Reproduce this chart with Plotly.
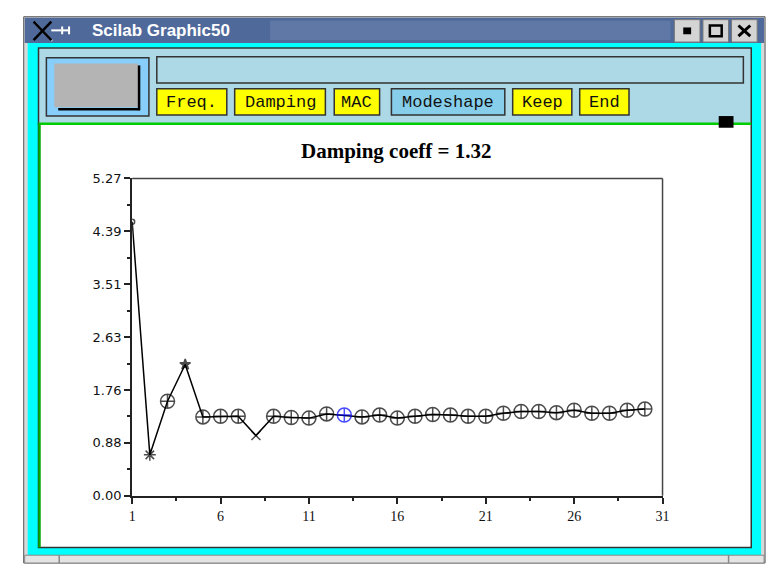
import plotly.graph_objects as go

W, H = 776, 571

# ---- data ----
mode_index = list(range(1, 31))
damping = [4.55, 0.68, 1.57, 2.18, 1.31, 1.32, 1.32, 1.00, 1.32, 1.30,
           1.29, 1.36, 1.34, 1.31, 1.34, 1.29, 1.32, 1.35, 1.34, 1.32,
           1.32, 1.37, 1.40, 1.40, 1.38, 1.42, 1.37, 1.37, 1.42, 1.44]
point_symbols = (["circle-open", "asterisk-open", "circle-cross-open", "star"]
                 + ["circle-cross-open"] * 3 + ["x-thin-open"]
                 + ["circle-cross-open"] * 22)
point_colors = ["black"] * 12 + ["blue"] + ["black"] * 17
point_sizes = ([5, 10, 14, 8] + [14] * 3 + [9] + [14] * 22)
y_tickvals = [0.0, 0.878, 1.757, 2.635, 3.513, 4.392, 5.27]
y_ticktext = ["0.00", "0.88", "1.76", "2.63", "3.51", "4.39", "5.27"]
x_tickvals = [1, 6, 11, 16, 21, 26, 31]
x_ticktext = ["1", "6", "11", "16", "21", "26", "31"]
buttons = ["Freq.", "Damping", "MAC", "Modeshape", "Keep", "End"]
title_text = "Damping coeff = 1.32"
window_title = "Scilab Graphic50"


def X(p):
    return p / W


def Y(p):
    return 1 - p / H


shapes = []


def rect(x0, y0, x1, y1, fill, line=None, lw=1, layer="below"):
    shapes.append(dict(type="rect", xref="paper", yref="paper",
                       x0=X(x0), x1=X(x1), y0=Y(y1), y1=Y(y0),
                       fillcolor=fill, layer=layer,
                       line=dict(color=line if line else "rgba(0,0,0,0)", width=lw if line else 0)))


def seg(x0, y0, x1, y1, color, lw=1, layer="below"):
    shapes.append(dict(type="line", xref="paper", yref="paper",
                       x0=X(x0), x1=X(x1), y0=Y(y0), y1=Y(y1), layer=layer,
                       line=dict(color=color, width=lw)))


# window frame
rect(20, 10, 772, 571, "#d8d8d8", "#555555", 1)
# title bar
rect(21, 11, 771, 37, "#4f6a9a")
rect(270, 14, 676, 34, "#6078a6")
# cyan frame
rect(24, 37, 768, 563, "#00ffff")
# toolbar
rect(35, 42, 758, 120, "#add8e6", "#333333", 1.5)
# graphic area
rect(35, 120, 758, 555, "#ffffff", "#333333", 1.5)
seg(35, 120, 758, 120, "#00cc00", 2.5)
seg(36, 120, 36, 555, "#00aa00", 2.5)
# status bar
rect(21, 563, 771, 571, "#e4e4e4", "#888888", 1)
seg(56, 563, 56, 571, "#888888", 1.5)
seg(735, 563, 735, 571, "#888888", 1.5)

# pixmap box
rect(43, 52, 147, 112, "#87cefa", "#333333", 1.5)
rect(51, 58, 136, 103, "#b4b4b4")
seg(137, 60, 137, 106, "#000000", 2.5)
seg(55, 105, 138, 105, "#000000", 2.5)
# text field
rect(155, 51, 750, 78, "#add8e6", "#333333", 1.5)

# buttons
btn_x = [(155, 226), (234, 326), (335, 381), (393, 508), (516, 576), (584, 634)]
btn_fill = ["#ffff00", "#ffff00", "#ffff00", "#87ceeb", "#ffff00", "#ffff00"]
annotations = []
for (bx0, bx1), f, t in zip(btn_x, btn_fill, buttons):
    rect(bx0, 84, bx1, 111, f, "#333333", 1.5)
    annotations.append(dict(xref="paper", yref="paper", x=X((bx0 + bx1) / 2), y=Y(98),
                            text=t, showarrow=False, xanchor="center", yanchor="middle",
                            font=dict(family="Liberation Mono", size=17, color="#111111")))

# black square marker
rect(725, 112, 740, 124, "#000000", layer="above")

# window buttons
for bx0 in (680, 709, 738):
    rect(bx0, 13, bx0 + 26, 36, "#d4d4d4", "#777777", 1)
rect(689, 21, 697, 28, "#000000")
rect(716, 19, 728, 30, "rgba(0,0,0,0)", "#000000", 2.5)
seg(745, 19, 757, 30, "#000000", 3)
seg(745, 30, 757, 19, "#000000", 3)

# X icon in title bar
seg(31, 16, 49, 35, "#9aa8c0", 2.5)
seg(30, 15, 48, 34, "#000000", 2.5)
seg(30, 34, 48, 15, "#000000", 2.5)
seg(48, 24, 58, 24, "#ffffff", 2)
seg(59, 20, 59, 28, "#ffffff", 2)
seg(59, 24, 66, 24, "#ffffff", 2)
seg(66, 20, 66, 28, "#ffffff", 2)

annotations.append(dict(xref="paper", yref="paper", x=X(87), y=Y(24),
                        text="<b>" + window_title + "</b>", showarrow=False,
                        xanchor="left", yanchor="middle",
                        font=dict(family="Liberation Sans", size=17, color="#ffffff")))
annotations.append(dict(xref="paper", yref="paper", x=X(398), y=Y(148),
                        text="<b>" + title_text + "</b>", showarrow=False,
                        xanchor="center", yanchor="middle",
                        font=dict(family="Liberation Serif", size=21, color="#000000")))

# plot box top/right
seg(130, 176, 668, 176, "#444444", 1.5, "above")
seg(668, 176, 668, 502, "#444444", 1.5, "above")

fig = go.Figure()
fig.add_trace(go.Scatter(
    x=mode_index, y=damping, mode="lines+markers",
    line=dict(color="black", width=1.5),
    marker=dict(symbol=point_symbols, size=point_sizes, color=point_colors,
                line=dict(color=point_colors, width=1.5)),
    showlegend=False, hoverinfo="x+y"))

fig.update_layout(
    width=W, height=H, margin=dict(l=0, r=0, t=0, b=0),
    paper_bgcolor="#ffffff", plot_bgcolor="rgba(0,0,0,0)",
    shapes=shapes, annotations=annotations, showlegend=False,
    xaxis=dict(domain=[X(130), X(668)], range=[1, 31], showgrid=False, zeroline=False,
               showline=True, linecolor="#222222", linewidth=2,
               tickmode="array", tickvals=x_tickvals, ticktext=x_ticktext,
               ticks="outside", ticklen=6, tickwidth=1.5, tickcolor="#222222",
               minor=dict(tickvals=[3.5, 8.5, 13.5, 18.5, 23.5, 28.5], ticks="outside",
                          ticklen=3, tickwidth=1.5, tickcolor="#222222"),
               tickfont=dict(family="Liberation Serif", size=14, color="#111111"),
               fixedrange=True),
    yaxis=dict(domain=[Y(502), Y(176)], range=[0, 5.27], showgrid=False, zeroline=False,
               showline=True, linecolor="#222222", linewidth=2,
               tickmode="array", tickvals=y_tickvals, ticktext=y_ticktext,
               ticks="outside", ticklen=6, tickwidth=1.5, tickcolor="#222222",
               minor=dict(tickvals=[0.439, 1.318, 2.196, 3.074, 3.952, 4.831], ticks="outside",
                          ticklen=3, tickwidth=1.5, tickcolor="#222222"),
               tickfont=dict(family="DejaVu Sans", size=13, color="#111111"),
               fixedrange=True),
)

css = ("var s=document.createElement('style');"
       "s.textContent='html,body{margin:0;padding:0;overflow:hidden;width:776px;height:571px}';"
       "document.head.appendChild(s);")
fig.write_html("out.html", config=dict(displayModeBar=False), post_script=css)
